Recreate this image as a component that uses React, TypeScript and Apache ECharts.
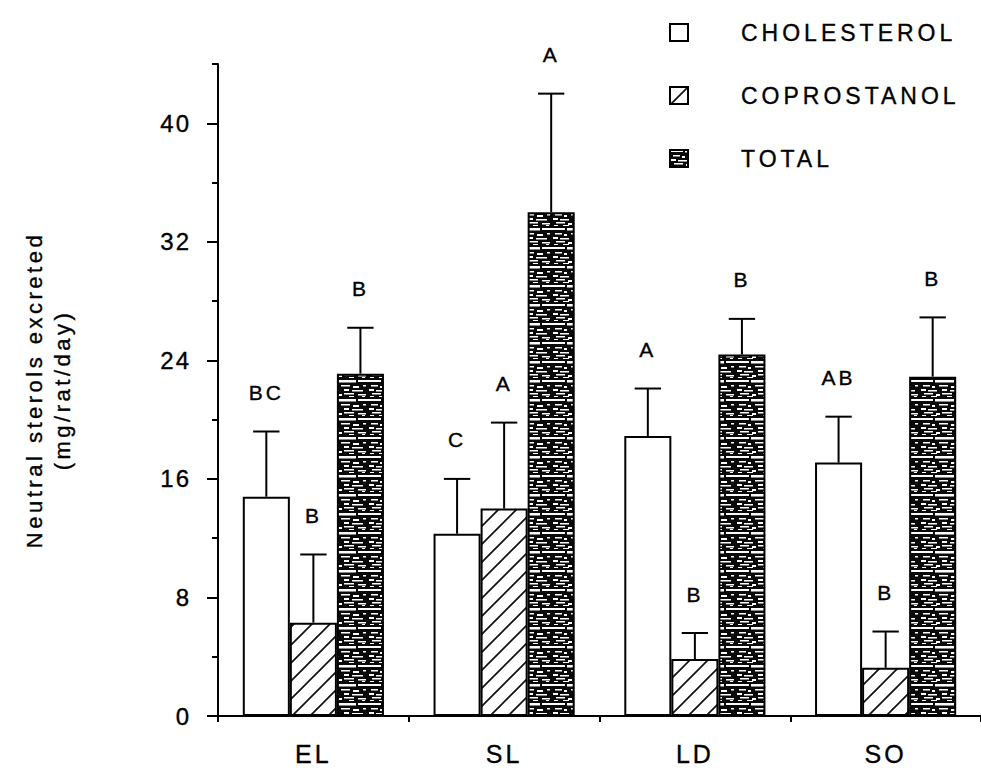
import React, { useEffect, useRef } from 'react';
import * as echarts from 'echarts';

// Diet groups on the x axis
const categories = ['EL', 'SL', 'LD', 'SO'];
const seriesNames = ['CHOLESTEROL', 'COPROSTANOL', 'TOTAL'];

// Neutral sterol excretion, mg/rat/day (mean and upper error)
const cholesterol = [14.8, 12.3, 18.9, 17.1];
const cholesterolErr = [4.4, 3.7, 3.2, 3.1];
const coprostanol = [6.3, 14.0, 3.85, 3.25];
const coprostanolErr = [4.6, 5.8, 1.75, 2.45];
const total = [23.1, 34.0, 24.4, 22.9];
const totalErr = [3.1, 8.0, 2.4, 4.0];

// Significance letters above each bar
const cholesterolLetters = ['BC', 'C', 'A', 'AB'];
const coprostanolLetters = ['B', 'A', 'B', 'B'];
const totalLetters = ['B', 'A', 'B', 'B'];

// Y axis ticks
const yMajorTicks = [0, 8, 16, 24, 32, 40];
const yMinorTicks = [4, 12, 20, 28, 36, 44];

const FONT = '"Liberation Sans", Arial, Helvetica, sans-serif';
const CAT_GAP = 0.26;

// Typewriter-like tracking per text size (sizes are unique per text group)
const TRACKING_CSS = [
  '.sterol-chart text { letter-spacing: 3px; stroke: #000; stroke-width: 0.35px; }',
  '.sterol-chart text[style*="24px"] { letter-spacing: 2px; }',
  '.sterol-chart text[style*="25px"] { letter-spacing: 3px; }',
  '.sterol-chart text[style*="23px"] { letter-spacing: 4px; }',
  '.sterol-chart text[style*="22px"] { letter-spacing: 3.5px; }',
  '.sterol-chart text[style*="21px"] { letter-spacing: 3px; }',
].join('\n');

function hatchFill() {
  const s = 18;
  const c = document.createElement('canvas');
  c.width = s;
  c.height = s;
  const ctx = c.getContext('2d')!;
  ctx.fillStyle = '#ffffff';
  ctx.fillRect(0, 0, s, s);
  ctx.strokeStyle = '#111111';
  ctx.lineWidth = 1.7;
  ctx.beginPath();
  ctx.moveTo(0, s);
  ctx.lineTo(s, 0);
  ctx.moveTo(-2, 2);
  ctx.lineTo(2, -2);
  ctx.moveTo(s - 2, s + 2);
  ctx.lineTo(s + 2, s - 2);
  ctx.stroke();
  return { image: c.toDataURL(), repeat: 'repeat', imageWidth: s, imageHeight: s };
}

// Dark stippled fill: black ground broken by white horizontal streaks
const streaks: number[][] = [
  [0, 0, 13, 2], [15, 0, 19, 2.5], [36, 0, 10, 2],
  [3, 5, 7, 1.5], [12, 6, 3, 2], [19, 5, 9, 1.5], [31, 6, 6, 2], [41, 5, 3, 1.5],
  [1, 9, 5, 2], [8, 10, 9, 1.5], [22, 9, 5, 2], [30, 10, 11, 1.5],
  [4, 13, 9, 1.5], [16, 14, 4, 2], [22, 13, 10, 1.5], [36, 14, 8, 1.5],
  [2, 16, 4, 1], [11, 16, 6, 1], [27, 16, 5, 1], [40, 16, 3, 1],
];
function stippleFill() {
  const w = 46;
  const h = 19;
  const c = document.createElement('canvas');
  c.width = w;
  c.height = h;
  const ctx = c.getContext('2d')!;
  ctx.fillStyle = '#0a0a0a';
  ctx.fillRect(0, 0, w, h);
  ctx.fillStyle = '#ffffff';
  streaks.forEach(([x, y, sw, sh]) => ctx.fillRect(x, y, sw, sh));
  return { image: c.toDataURL(), repeat: 'repeat', imageWidth: w, imageHeight: h };
}

export default function App() {
  const ref = useRef<HTMLDivElement>(null);

  useEffect(() => {
    if (!ref.current) return;
    const chart = echarts.init(ref.current, null, { renderer: 'svg' });

    const values = [cholesterol, coprostanol, total];
    const errs = [cholesterolErr, coprostanolErr, totalErr];
    const letters = [cholesterolLetters, coprostanolLetters, totalLetters];
    const fills: any[] = ['#ffffff', hatchFill(), stippleFill()];

    const errData: number[][] = [];
    values.forEach((arr, s) =>
      arr.forEach((v, c) => errData.push([c, s, v, errs[s][c]]))
    );

    const barSeries = seriesNames.map((name, s) => ({
      name,
      type: 'bar',
      data: values[s],
      barGap: '0%',
      barCategoryGap: `${CAT_GAP * 100}%`,
      itemStyle: { color: fills[s], borderColor: '#000', borderWidth: 2 },
      z: 2,
    }));

    const option: any = {
      animation: false,
      backgroundColor: '#ffffff',
      grid: { left: 218, right: -10, top: 64, bottom: 58 },
      legend: {
        orient: 'vertical',
        left: 664,
        top: 16,
        itemWidth: 18,
        itemHeight: 17,
        itemGap: 40,
        icon: 'rect',
        selectedMode: false,
        data: seriesNames,
        itemStyle: { borderColor: '#000', borderWidth: 2 },
        textStyle: { fontSize: 23, color: '#000', fontFamily: FONT, padding: [0, 0, 0, 48] },
      },
      xAxis: {
        type: 'category',
        data: categories,
        boundaryGap: true,
        axisLine: { lineStyle: { color: '#000', width: 2 } },
        axisTick: { show: true, length: 6, lineStyle: { color: '#000', width: 2 } },
        axisLabel: { color: '#000', fontSize: 25, fontFamily: FONT, margin: 25 },
        splitLine: { show: false },
      },
      yAxis: [
        {
          type: 'value',
          position: 'left',
          min: 0,
          max: 44,
          interval: 4,
          name: 'Neutral sterols excreted\n(mg/rat/day)',
          nameLocation: 'middle',
          nameGap: 142,
          nameTextStyle: { color: '#000', fontSize: 22, fontFamily: FONT, lineHeight: 28 },
          axisLine: { show: true, lineStyle: { color: '#000', width: 2 } },
          axisTick: {
            show: true,
            length: 11,
            customValues: yMajorTicks,
            lineStyle: { color: '#000', width: 2 },
          },
          axisLabel: {
            color: '#000',
            fontSize: 24,
            fontFamily: FONT,
            margin: 27,
            customValues: yMajorTicks,
          },
          splitLine: { show: false },
        },
        {
          type: 'value',
          position: 'left',
          offset: 0,
          min: 0,
          max: 44,
          interval: 4,
          axisLine: { show: false },
          axisTick: {
            show: true,
            length: 6,
            customValues: yMinorTicks,
            lineStyle: { color: '#000', width: 2 },
          },
          axisLabel: { show: false },
          splitLine: { show: false },
        },
      ],
      series: [
        ...barSeries,
        {
          type: 'custom',
          name: 'error',
          data: errData,
          encode: { x: 0, y: 2 },
          z: 5,
          silent: true,
          renderItem: (_params: any, api: any) => {
            const c = api.value(0);
            const s = api.value(1);
            const v = api.value(2);
            const e = api.value(3);
            const band = api.size([1, 0])[0];
            const barW = (band * (1 - CAT_GAP)) / 3;
            const base = api.coord([c, v]);
            const top = api.coord([c, v + e]);
            const x = base[0] + (s - 1) * barW;
            const capHalf = barW * 0.28;
            const stroke = { stroke: '#000', lineWidth: 2 };
            return {
              type: 'group',
              children: [
                { type: 'line', shape: { x1: x, y1: base[1], x2: x, y2: top[1] }, style: stroke },
                { type: 'line', shape: { x1: x - capHalf, y1: top[1], x2: x + capHalf, y2: top[1] }, style: stroke },
                {
                  type: 'text',
                  x,
                  y: top[1] - 39,
                  style: {
                    text: letters[s][c],
                    align: 'center',
                    verticalAlign: 'middle',
                    fontSize: 21,
                    fontFamily: FONT,
                    fill: '#000',
                  },
                },
              ],
            };
          },
        },
      ],
    };

    chart.setOption(option);
    return () => chart.dispose();
  }, []);

  return (
    <>
      <style>{TRACKING_CSS}</style>
      <div
        ref={ref}
        className="sterol-chart"
        style={{ position: 'fixed', left: 0, top: 0, width: 981, height: 774, background: '#fff' }}
      />
    </>
  );
}
